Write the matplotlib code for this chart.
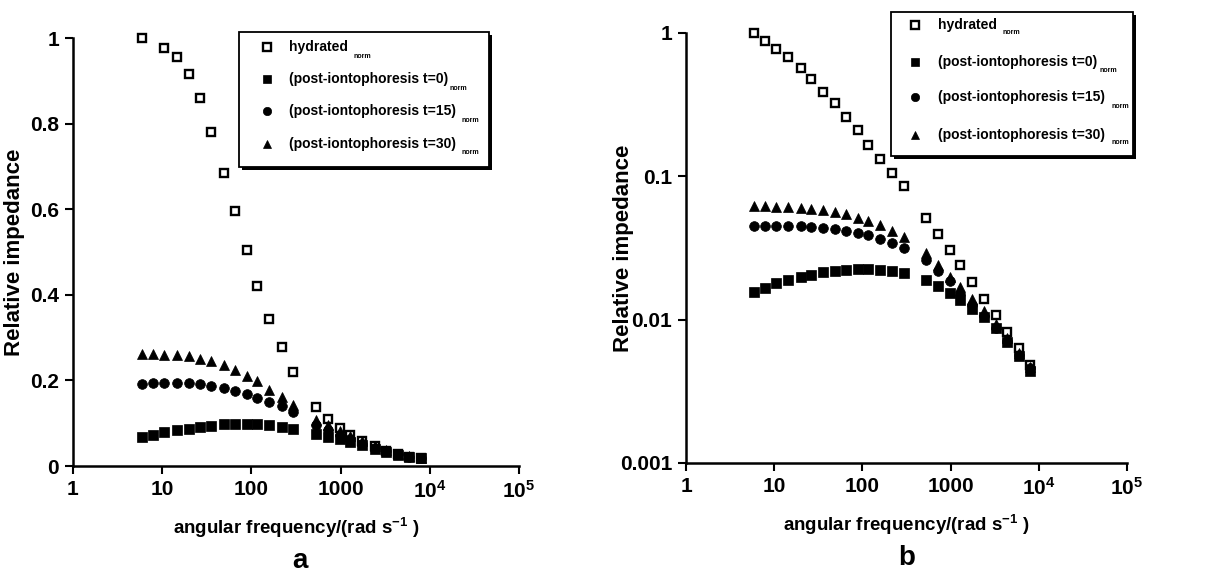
import numpy as np
import matplotlib
matplotlib.use("Agg")
import matplotlib.pyplot as plt
from matplotlib.patches import Rectangle
from matplotlib.lines import Line2D

plt.rcParams['font.family'] = ['Liberation Sans', 'DejaVu Sans']
plt.rcParams['font.weight'] = 'bold'
plt.rcParams['axes.labelweight'] = 'bold'
plt.rcParams['mathtext.fontset'] = 'custom'
plt.rcParams['mathtext.rm'] = 'Liberation Sans:bold'
plt.rcParams['mathtext.it'] = 'Liberation Sans:bold'
plt.rcParams['mathtext.bf'] = 'Liberation Sans:bold'

# ---------------- data ----------------
freq = [5.9, 7.9, 10.6, 14.5, 20, 26.3, 35.5, 49, 66, 89, 117, 158, 219, 295,
        525, 724, 977, 1290, 1740, 2400, 3240, 4370, 5890, 7940]

# panel a (linear)
hyd_a = [1.0, np.nan, 0.977, 0.956, 0.917, 0.859, 0.78, 0.685, 0.596, 0.505, 0.42, 0.343, 0.278, 0.219,
         0.138, 0.109, 0.088, 0.072, 0.058, 0.046, 0.036, 0.028, 0.022, 0.018]
t0_a = [0.068, 0.073, 0.079, 0.083, 0.086, 0.090, 0.094, 0.097, 0.097, 0.097, 0.097, 0.095, 0.092, 0.086,
        0.075, 0.068, 0.062, 0.056, 0.049, 0.040, 0.033, 0.026, 0.021, 0.018]
t15_a = [0.192, 0.193, 0.194, 0.194, 0.193, 0.191, 0.187, 0.182, 0.175, 0.168, 0.158, 0.150, 0.140, 0.127,
         0.096, 0.084, 0.072, 0.062, 0.052, 0.042, 0.034, 0.027, 0.022, 0.018]
t30_a = [0.262, 0.262, 0.260, 0.259, 0.256, 0.251, 0.245, 0.235, 0.224, 0.211, 0.199, 0.178, 0.161, 0.143,
         0.107, 0.095, 0.082, 0.069, 0.058, 0.046, 0.037, 0.029, 0.023, 0.019]

# panel b (log)
hyd_b = [1.0, 0.885, 0.77, 0.68, 0.57, 0.48, 0.39, 0.325, 0.26, 0.21, 0.166, 0.133, 0.106, 0.085,
         0.0514, 0.0397, 0.0305, 0.0241, 0.0184, 0.0139, 0.0108, 0.0082, 0.0063, 0.0048]
t0_b = [0.0155, 0.0167, 0.0179, 0.0189, 0.0200, 0.0205, 0.0214, 0.0219, 0.0222, 0.0226, 0.0226, 0.0222, 0.0219, 0.0211,
        0.0189, 0.0172, 0.0154, 0.0137, 0.0119, 0.0104, 0.0087, 0.0070, 0.0056, 0.0044]
t15_b = [0.045, 0.045, 0.045, 0.045, 0.0447, 0.0445, 0.0438, 0.043, 0.0415, 0.0403, 0.0388, 0.0368, 0.0343, 0.0316,
         0.026, 0.022, 0.0185, 0.0152, 0.0127, 0.0106, 0.0088, 0.0071, 0.0057, 0.0046]
t30_b = [0.0622, 0.0622, 0.0615, 0.0611, 0.0605, 0.0596, 0.058, 0.0564, 0.0542, 0.0514, 0.0488, 0.0454, 0.0414, 0.0376,
         0.029, 0.024, 0.020, 0.017, 0.014, 0.0115, 0.0093, 0.0075, 0.0059, 0.0047]

series_labels = ["hydrated", "(post-iontophoresis t=0)", "(post-iontophoresis t=15)", "(post-iontophoresis t=30)"]
xtick_vals = [1, 10, 100, 1000, 1e4, 1e5]
xtick_labels = ["1", "10", "100", "1000", r"$\mathregular{10^4}$", r"$\mathregular{10^5}$"]
ytick_a = [0, 0.2, 0.4, 0.6, 0.8, 1]
ytick_a_labels = ["0", "0.2", "0.4", "0.6", "0.8", "1"]
ytick_b = [0.001, 0.01, 0.1, 1]
ytick_b_labels = ["0.001", "0.01", "0.1", "1"]

W, H = 1231, 573
fig = plt.figure(figsize=(W / 100, H / 100), dpi=100)

def fx(x):
    return x / W

def fy(y):
    return 1 - y / H

axa = fig.add_axes([fx(73), fy(466), fx(519) - fx(73), fy(38) - fy(466)])
axb = fig.add_axes([fx(686), fy(463), fx(1127) - fx(686), fy(33) - fy(463)])

ms = 7.0
styles = [dict(marker='s', mfc='white', mec='black', mew=1.7, ms=ms - 0.6),
          dict(marker='s', mfc='black', mec='black', mew=0.5, ms=ms),
          dict(marker='o', mfc='black', mec='black', mew=0.5, ms=ms),
          dict(marker='^', mfc='black', mec='black', mew=0.5, ms=ms)]

def draw(ax, data):
    for vals, st in zip(data, styles):
        ax.plot(freq, vals, linestyle='none', clip_on=False, **st)

draw(axa, [hyd_a, t0_a, t15_a, t30_a])
draw(axb, [hyd_b, t0_b, t15_b, t30_b])

fs_tick = 15
for ax in (axa, axb):
    ax.set_xscale('log')
    ax.set_xlim(1, 1e5)
    ax.set_xticks(xtick_vals)
    ax.set_xticklabels(xtick_labels, fontsize=fs_tick)
    ax.xaxis.set_minor_locator(matplotlib.ticker.NullLocator())
    for s in ('top', 'right'):
        ax.spines[s].set_visible(False)
    for s in ('left', 'bottom'):
        ax.spines[s].set_linewidth(1.8)
    ax.tick_params(axis='both', which='major', length=6, width=1.5, direction='out', pad=4)
    ax.set_xlabel(r"angular frequency/(rad s$^{\mathregular{-1}}$ )", fontsize=13.5, labelpad=10)
    ax.set_ylabel("Relative impedance", fontsize=16)

axa.set_ylim(0, 1)
axa.set_yticks(ytick_a)
axa.set_yticklabels(ytick_a_labels, fontsize=fs_tick)
axa.yaxis.set_label_coords(-0.108, 0.5)

axb.set_yscale('log')
axb.set_ylim(0.001, 1)
axb.set_yticks(ytick_b)
axb.set_yticklabels(ytick_b_labels, fontsize=fs_tick)
axb.yaxis.set_minor_locator(matplotlib.ticker.NullLocator())
axb.yaxis.set_label_coords(-0.118, 0.5)

fig.text(fx(300), fy(568), "a", fontsize=20, fontweight='bold', ha='center', va='baseline')
fig.text(fx(907), fy(565), "b", fontsize=20, fontweight='bold', ha='center', va='baseline')

def legend(box, mx, tx, rows, subs):
    x0, y0, x1, y1 = box
    sh = 3
    fig.patches.append(Rectangle((fx(x0 + sh), fy(y1 + sh)), fx(x1 - x0), fy(y0) - fy(y1),
                                 transform=fig.transFigure, facecolor='black', edgecolor='black', lw=0))
    fig.patches.append(Rectangle((fx(x0), fy(y1)), fx(x1 - x0), fy(y0) - fy(y1),
                                 transform=fig.transFigure, facecolor='white', edgecolor='black', lw=1.3))
    for ry, st, lab, (sx, sy) in zip(rows, styles, series_labels, subs):
        st2 = dict(st)
        st2['ms'] = st['ms'] - 1.0
        fig.add_artist(Line2D([fx(mx)], [fy(ry)], transform=fig.transFigure, linestyle='none', **st2))
        fig.text(fx(tx), fy(ry), lab, fontsize=10, ha='left', va='center')
        fig.text(fx(sx), fy(sy), "norm", fontsize=5, fontweight='bold', ha='left', va='center')

legend((239, 32, 489, 167), 267, 289, [47, 79, 111, 144],
       [(353, 57), (450, 89), (462, 121), (462, 153)])
legend((891, 12, 1133, 156), 915, 938, [25, 62, 97, 135],
       [(1002, 33), (1100, 71), (1112, 106), (1112, 142)])

fig.savefig("out.png", dpi=100)
